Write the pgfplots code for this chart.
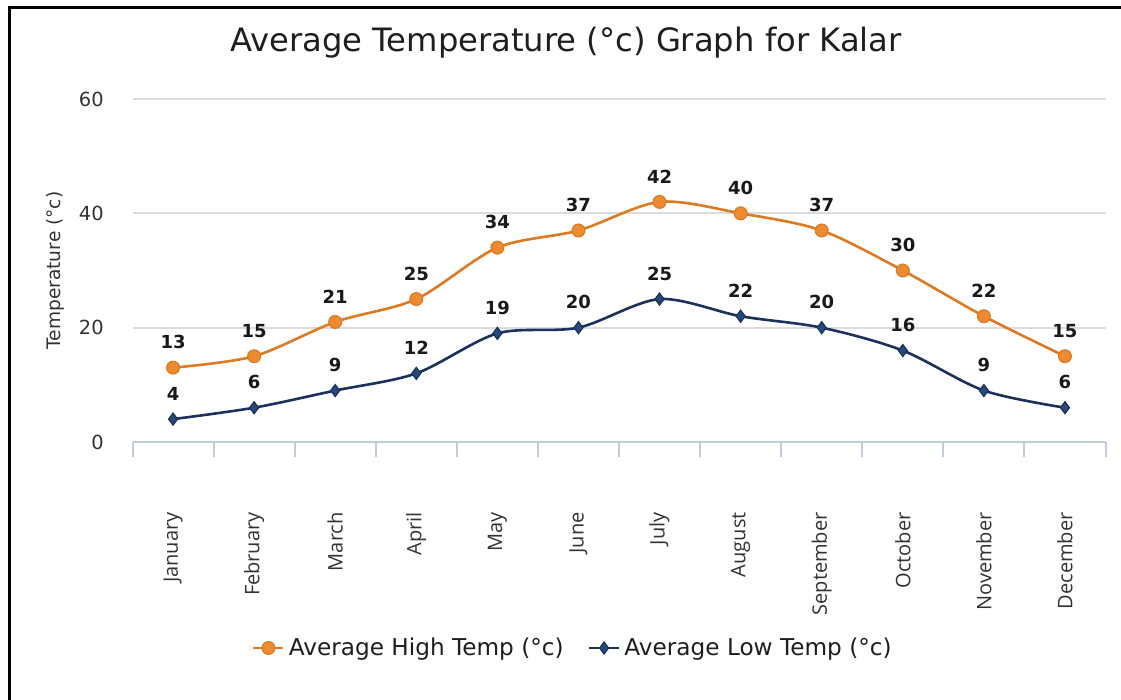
\documentclass[border=0pt]{standalone}
\usepackage{fontspec}
\setmainfont{DejaVu Sans}
\newfontfamily\opensans{Open Sans}
\usepackage{pgfplots}
\pgfplotsset{compat=1.18}
\definecolor{hiline}{HTML}{DE7A22}
\definecolor{hifill}{HTML}{EE8A30}
\definecolor{loline}{HTML}{1B325F}
\definecolor{lofill}{HTML}{24497A}
\definecolor{axiscol}{HTML}{C0CCD8}
\definecolor{gridcol}{HTML}{DCDCDC}
\definecolor{txt}{HTML}{333333}
\begin{document}
\begin{tikzpicture}[x=0.5pt,y=0.5pt]
\useasboundingbox (0,0) rectangle (1121,700);
\fill[white] (0,0) rectangle (1121,700);
\draw[line width=1.5pt] (9,0) -- (9,692) -- (1121,692);
\node[font=\fontsize{16.1}{18}\selectfont, text=black!88] at (566,657) {Average Temperature (°c) Graph for Kalar};
\begin{axis}[
  at={(66.25pt,129pt)}, anchor=south west,
  scale only axis, width=486.5pt, height=171.5pt,
  xmin=-0.5, xmax=11.5, ymin=0, ymax=60,
  clip=false,
  /pgf/number format/assume math mode=true,
  axis x line*=bottom, axis y line*=left,
  y axis line style={draw=none},
  x axis line style={axiscol, line width=1pt},
  xtick={0,...,11},
  xticklabels={January,February,March,April,May,June,July,August,September,October,November,December},
  xticklabel style={rotate=90, anchor=east, inner sep=0pt, font=\opensans\fontsize{10}{12}\selectfont, text=txt},
  xticklabel shift=35pt,
  minor xtick={-0.5,0.5,...,11.5},
  tick align=outside,
  major tick length=0pt,
  minor tick length=7.5pt,
  minor x tick style={axiscol, line width=1pt},
  ytick={0,20,40,60},
  yticklabel style={anchor=east, inner sep=0pt, xshift=-14.25pt, font=\fontsize{9.7}{11}\selectfont, text=txt},
  ymajorgrids, grid style={gridcol, line width=1pt},
  ylabel={Temperature (°c)},
  ylabel style={at={(axis description cs:-0.0797,0.5)}, anchor=center, font=\fontsize{9.3}{11}\selectfont, text=txt},
  nodes near coords,
  every node near coord/.append style={font=\bfseries\fontsize{9}{10}\selectfont, text=black!90, anchor=south, inner sep=0pt, yshift=9pt},
  legend columns=2,
  legend style={at={(axis description cs:0.4537,-0.6006)}, anchor=center, draw=none, fill=none, font=\fontsize{11.6}{13}\selectfont, text=black!88, /tikz/every even column/.append style={column sep=10pt}},
  legend image code/.code={\draw[mark repeat=2, mark phase=2] plot coordinates {(0pt,0pt) (7.5pt,0pt) (15pt,0pt)};},
]
\addplot[smooth, hiline, line width=1.3pt, mark=*, mark size=3.2pt, mark options={fill=hifill, draw=hiline, line width=0.6pt}]
  coordinates {(0,13) (1,15) (2,21) (3,25) (4,34) (5,37) (6,42) (7,40) (8,37) (9,30) (10,22) (11,15)};
\addlegendentry{Average High Temp (°c)}
\addplot[smooth, loline, line width=1.3pt, mark=diamond*, mark size=3pt, mark options={fill=lofill, draw=loline, line width=0.6pt}]
  coordinates {(0,4) (1,6) (2,9) (3,12) (4,19) (5,20) (6,25) (7,22) (8,20) (9,16) (10,9) (11,6)};
\addlegendentry{Average Low Temp (°c)}
\end{axis}
\end{tikzpicture}
\end{document}
